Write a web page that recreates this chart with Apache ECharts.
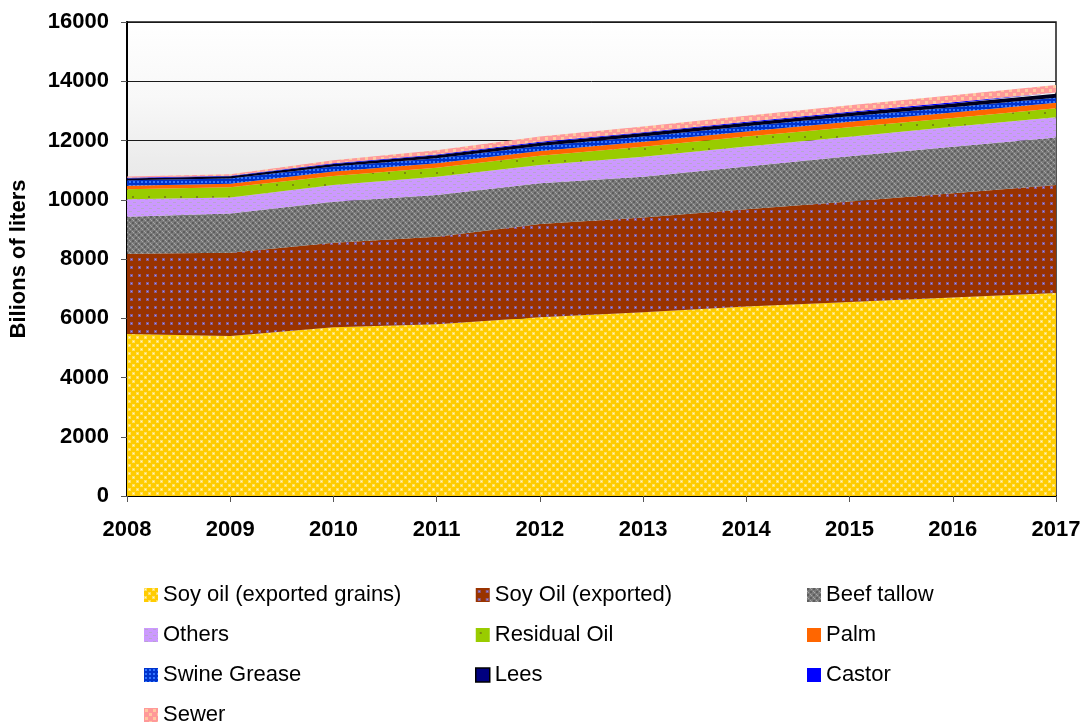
<!DOCTYPE html>
<html>
<head>
<meta charset="utf-8">
<title>Biodiesel feedstock supply 2008-2017</title>
<script src="https://cdn.jsdelivr.net/npm/echarts@6/dist/echarts.min.js"></script>
<style>
  html, body { margin: 0; padding: 0; background: #ffffff; }
  #chart { width: 1086px; height: 726px; }
</style>
</head>
<body>
<div id="chart"></div>
<script>
// Years on the horizontal axis
const years = ['2008', '2009', '2010', '2011', '2012', '2013', '2014', '2015', '2016', '2017'];

// Feedstock volumes (billions of liters), stacked bottom to top
const soyOilExportedGrains = [5470, 5400, 5700, 5800, 6030, 6200, 6400, 6550, 6700, 6850];
const soyOilExported       = [2710, 2810, 2850, 2950, 3150, 3200, 3280, 3390, 3520, 3650];
const beefTallow           = [1250, 1330, 1380, 1410, 1375, 1380, 1440, 1530, 1570, 1600];
const others               = [585, 540, 570, 620, 618, 674, 674, 660, 678, 683];
const residualOil          = [340, 340, 300, 303, 310, 338, 338, 315, 290, 304];
const palm                 = [120, 120, 150, 150, 165, 170, 170, 190, 190, 190];
const swineGrease          = [180, 180, 170, 170, 170, 175, 180, 180, 175, 170];
const lees                 = [65, 70, 90, 100, 110, 115, 120, 125, 130, 135];
const castor               = [20, 20, 25, 25, 30, 30, 30, 30, 35, 35];
const sewer                = [45, 50, 100, 140, 180, 190, 200, 220, 240, 260];

// Value axis ticks
const yMin = 0, yMax = 16000, yStep = 2000;

// --- small tiled fill patterns ---------------------------------------
function tile(w, h, draw) {
  const c = document.createElement('canvas');
  c.width = w; c.height = h;
  const g = c.getContext('2d');
  draw(g);
  return { image: c, repeat: 'repeat' };
}

const fills = {
  yellow: tile(8, 8, g => {
    g.fillStyle = '#FFCC00'; g.fillRect(0, 0, 8, 8);
    g.fillStyle = '#FFE066'; g.fillRect(0, 0, 3, 3); g.fillRect(4, 4, 3, 3);
    g.fillStyle = '#FFF8C8'; g.fillRect(1, 1, 1, 1); g.fillRect(5, 5, 1, 1);
  }),
  brown: tile(8, 8, g => {
    g.fillStyle = '#993300'; g.fillRect(0, 0, 8, 8);
    g.fillStyle = '#8A5A8A'; g.fillRect(2, 2, 3, 3);
    g.fillStyle = '#9999FF'; g.fillRect(3, 3, 1, 1);
  }),
  grey: tile(6, 6, g => {
    g.fillStyle = '#7A7A7A'; g.fillRect(0, 0, 6, 6);
    g.fillStyle = '#5E5E5E'; g.fillRect(0, 0, 2, 2); g.fillRect(3, 3, 2, 2);
    g.fillStyle = '#A6A6A6'; g.fillRect(3, 0, 1, 1); g.fillRect(0, 3, 1, 1);
    g.fillRect(4, 1, 1, 1); g.fillRect(1, 4, 1, 1);
  }),
  lavender: tile(8, 6, g => {
    g.fillStyle = '#CC99FF'; g.fillRect(0, 0, 8, 6);
    g.fillStyle = '#B8A6CC'; g.fillRect(1, 1, 3, 1); g.fillRect(5, 4, 3, 1);
  }),
  green: tile(16, 12, g => {
    g.fillStyle = '#99CC00'; g.fillRect(0, 0, 16, 12);
    g.fillStyle = '#7A8A10'; g.fillRect(4, 4, 2, 2);
  }),
  orange: '#FF6600',
  blue: tile(4, 4, g => {
    g.fillStyle = '#0033CC'; g.fillRect(0, 0, 4, 4);
    g.fillStyle = '#3377FF'; g.fillRect(1, 1, 2, 2);
  }),
  lees: '#000020',
  castor: '#0000FF',
  sewer: tile(8, 8, g => {
    g.fillStyle = '#FF9999'; g.fillRect(0, 0, 8, 8);
    g.fillStyle = '#FFC8A0'; g.fillRect(1, 1, 3, 3); g.fillRect(5, 5, 3, 3);
  })
};

const layers = [
  { name: 'Soy oil (exported grains)', data: soyOilExportedGrains, fill: fills.yellow, base: '#FFCC00' },
  { name: 'Soy Oil (exported)',        data: soyOilExported,       fill: fills.brown,  base: '#993300' },
  { name: 'Beef tallow',               data: beefTallow,           fill: fills.grey,   base: '#808080' },
  { name: 'Others',                    data: others,               fill: fills.lavender, base: '#CC99FF' },
  { name: 'Residual Oil',              data: residualOil,          fill: fills.green,  base: '#99CC00' },
  { name: 'Palm',                      data: palm,                 fill: fills.orange, base: '#FF6600' },
  { name: 'Swine Grease',              data: swineGrease,          fill: fills.blue,   base: '#0033CC' },
  { name: 'Lees',                      data: lees,                 fill: fills.lees,   base: '#000080' },
  { name: 'Castor',                    data: castor,               fill: fills.castor, base: '#0000FF' },
  { name: 'Sewer',                     data: sewer,                fill: fills.sewer,  base: '#FF9999' }
];

const legendIcon = {
  'Lees': { color: '#000080', borderColor: '#000000', borderWidth: 1.5 }
};

function legendItem(name) {
  const l = layers.find(x => x.name === name);
  return { name: name, icon: 'rect', itemStyle: legendIcon[name] || { color: l.fill, borderWidth: 0 } };
}

function legendColumn(left, names) {
  return {
    orient: 'vertical',
    left: left,
    top: 583,
    height: 150,
    padding: 0,
    itemWidth: 14,
    itemHeight: 14,
    itemGap: 16,
    selectedMode: false,
    textStyle: { fontFamily: 'Liberation Sans, Arial, sans-serif', fontSize: 22, color: '#000', lineHeight: 24 },
    data: names.map(legendItem)
  };
}

const chart = echarts.init(document.getElementById('chart'), null, { renderer: 'canvas' });

const boldLabel = { fontFamily: 'Liberation Sans, Arial, sans-serif', fontSize: 22, fontWeight: 'bold', color: '#000' };

chart.setOption({
  animation: false,
  backgroundColor: '#ffffff',
  grid: {
    left: 127, right: 30, top: 22, bottom: 230,
    show: true,
    borderColor: '#1a1a1a',
    borderWidth: 1.5,
    backgroundColor: {
      type: 'linear', x: 0, y: 0, x2: 0, y2: 1,
      colorStops: [
        { offset: 0, color: '#ffffff' },
        { offset: 0.16, color: '#f8f8f8' },
        { offset: 0.30, color: '#ebebeb' },
        { offset: 1, color: '#c4c4c4' }
      ]
    }
  },
  legend: [
    legendColumn(144, ['Soy oil (exported grains)', 'Others', 'Swine Grease', 'Sewer']),
    legendColumn(475, ['Soy Oil (exported)', 'Residual Oil', 'Lees']),
    legendColumn(807, ['Beef tallow', 'Palm', 'Castor'])
  ],
  xAxis: {
    type: 'category',
    data: years,
    boundaryGap: false,
    axisLine: { lineStyle: { color: '#000', width: 2 } },
    axisTick: { show: true, length: 6, lineStyle: { color: '#555' } },
    axisLabel: Object.assign({ margin: 23 }, boldLabel),
    splitLine: { show: false }
  },
  yAxis: {
    type: 'value',
    min: yMin, max: yMax, interval: yStep,
    name: 'Bilions of liters',
    nameLocation: 'middle',
    nameRotate: 90,
    nameGap: 97,
    nameTextStyle: boldLabel,
    axisLine: { show: true, lineStyle: { color: '#000', width: 2 } },
    axisTick: { show: true, length: 6, lineStyle: { color: '#555' } },
    axisLabel: Object.assign({ margin: 18, formatter: v => String(v) }, boldLabel),
    splitLine: { show: true, lineStyle: { color: '#1a1a1a', width: 1 } }
  },
  series: layers.map(l => ({
    name: l.name,
    type: 'line',
    stack: 'total',
    data: l.data,
    showSymbol: false,
    symbol: 'none',
    lineStyle: { width: 0 },
    itemStyle: { color: l.base },
    areaStyle: { color: l.fill, opacity: 1 },
    emphasis: { disabled: true }
  }))
});
</script>
</body>
</html>
